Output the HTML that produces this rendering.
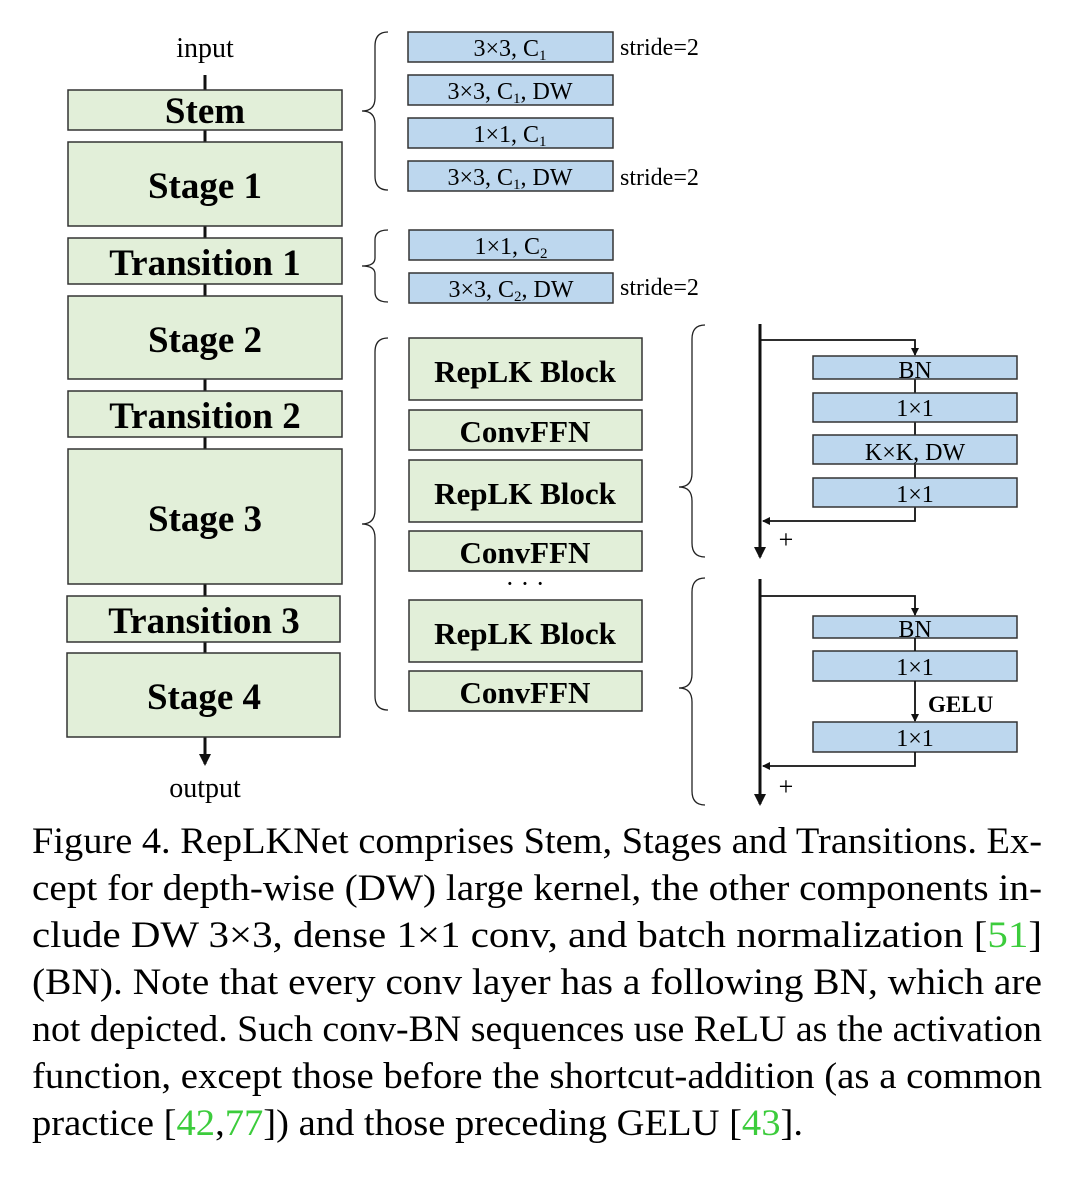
<!DOCTYPE html>
<html><head><meta charset="utf-8"><style>
html,body{margin:0;padding:0;background:#fff;}
svg{display:block;}
text{font-family:"Liberation Serif",serif;}
.b{font-weight:bold;font-size:37px;}
.s{font-size:24px;}
.c{font-size:37px;}
.g{fill:#3ccc3c;}
</style></head><body>
<svg width="1080" height="1177" viewBox="0 0 1080 1177" xmlns="http://www.w3.org/2000/svg">
<defs>
<marker id="ah" markerWidth="8" markerHeight="8" refX="7" refY="4" orient="auto" markerUnits="userSpaceOnUse"><path d="M0,0 L8,4 L0,8 z" fill="#111"/></marker>
<marker id="ahb" markerWidth="12" markerHeight="12" refX="10" refY="6" orient="auto" markerUnits="userSpaceOnUse"><path d="M0,0 L12,6 L0,12 z" fill="#111"/></marker>
</defs>
<line x1="205" y1="75" x2="205" y2="764" stroke="#111" stroke-width="3" marker-end="url(#ahb)"/>
<text x="205" y="57" text-anchor="middle" font-size="28">input</text>
<text x="205" y="797" text-anchor="middle" font-size="28">output</text>
<g fill="#e2efd9" stroke="#333" stroke-width="1.5">
<rect x="68" y="90" width="274" height="40"/>
<rect x="68" y="142" width="274" height="84"/>
<rect x="68" y="238" width="274" height="46"/>
<rect x="68" y="296" width="274" height="83"/>
<rect x="68" y="391" width="274" height="46"/>
<rect x="68" y="449" width="274" height="135"/>
<rect x="67" y="596" width="273" height="46"/>
<rect x="67" y="653" width="273" height="84"/>
<rect x="409" y="338" width="233" height="62"/>
<rect x="409" y="410" width="233" height="40"/>
<rect x="409" y="460" width="233" height="62"/>
<rect x="409" y="531" width="233" height="40"/>
<rect x="409" y="600" width="233" height="62"/>
<rect x="409" y="671" width="233" height="40"/>
</g>
<g class="b" text-anchor="middle">
<text x="205" y="123">Stem</text>
<text x="205" y="198">Stage 1</text>
<text x="205" y="275">Transition 1</text>
<text x="205" y="352">Stage 2</text>
<text x="205" y="428">Transition 2</text>
<text x="205" y="531">Stage 3</text>
<text x="204" y="633">Transition 3</text>
<text x="204" y="709">Stage 4</text>
</g>
<g font-weight="bold" font-size="31" text-anchor="middle">
<text x="525" y="382">RepLK Block</text>
<text x="525" y="442">ConvFFN</text>
<text x="525" y="504">RepLK Block</text>
<text x="525" y="563">ConvFFN</text>
<text x="525" y="644">RepLK Block</text>
<text x="525" y="703">ConvFFN</text>
<text x="525" y="592" font-weight="normal" font-size="26">· · ·</text>
</g>
<g fill="#bdd7ee" stroke="#333" stroke-width="1.5">
<rect x="408" y="32" width="205" height="30"/>
<rect x="408" y="75" width="205" height="30"/>
<rect x="408" y="118" width="205" height="30"/>
<rect x="408" y="161" width="205" height="30"/>
<rect x="409" y="230" width="204" height="30"/>
<rect x="409" y="273" width="204" height="30"/>
</g>
<g class="s" text-anchor="middle">
<text x="510" y="56">3×3, C<tspan font-size="15" dy="4">1</tspan></text>
<text x="510" y="99">3×3, C<tspan font-size="15" dy="4">1</tspan><tspan dy="-4">, DW</tspan></text>
<text x="510" y="142">1×1, C<tspan font-size="15" dy="4">1</tspan></text>
<text x="510" y="185">3×3, C<tspan font-size="15" dy="4">1</tspan><tspan dy="-4">, DW</tspan></text>
<text x="511" y="254">1×1, C<tspan font-size="15" dy="4">2</tspan></text>
<text x="511" y="297">3×3, C<tspan font-size="15" dy="4">2</tspan><tspan dy="-4">, DW</tspan></text>
</g>
<g font-size="24">
<text x="620" y="55">stride=2</text>
<text x="620" y="185">stride=2</text>
<text x="620" y="295">stride=2</text>
</g>
<g fill="none" stroke="#222" stroke-width="1.3">
<path d="M388,32 Q375,32 375,46 L375,98 Q375,111 362,111 Q375,111 375,124 L375,176 Q375,190 388,190"/>
<path d="M388,230 Q375,230 375,240 L375,258 Q375,266 362,266 Q375,266 375,274 L375,292 Q375,302 388,302"/>
<path d="M388,338 Q375,338 375,352 L375,510 Q375,524 362,524 Q375,524 375,538 L375,696 Q375,710 388,710"/>
<path d="M705,325 Q692,325 692,339 L692,473 Q692,487 679,487 Q692,487 692,501 L692,543 Q692,557 705,557"/>
<path d="M705,578 Q692,578 692,592 L692,674 Q692,688 679,688 Q692,688 692,702 L692,791 Q692,805 705,805"/>
</g>
<line x1="760" y1="324" x2="760" y2="557" stroke="#111" stroke-width="3" marker-end="url(#ahb)"/>
<polyline points="760,340 915,340 915,355" fill="none" stroke="#111" stroke-width="1.8" marker-end="url(#ah)"/>
<line x1="915" y1="379" x2="915" y2="478" stroke="#111" stroke-width="1.8"/>
<polyline points="915,507 915,521 763,521" fill="none" stroke="#111" stroke-width="1.8" marker-end="url(#ah)"/>
<g fill="#bdd7ee" stroke="#333" stroke-width="1.5">
<rect x="813" y="356" width="204" height="23"/>
<rect x="813" y="393" width="204" height="29"/>
<rect x="813" y="435" width="204" height="29"/>
<rect x="813" y="478" width="204" height="29"/>
<rect x="813" y="616" width="204" height="22"/>
<rect x="813" y="651" width="204" height="30"/>
<rect x="813" y="722" width="204" height="30"/>
</g>
<g class="s" text-anchor="middle">
<text x="915" y="378">BN</text>
<text x="915" y="416">1×1</text>
<text x="915" y="460">K×K, DW</text>
<text x="915" y="502">1×1</text>
<text x="915" y="637">BN</text>
<text x="915" y="675">1×1</text>
<text x="915" y="746">1×1</text>
</g>
<text x="786" y="548" font-size="26" text-anchor="middle">+</text>
<line x1="760" y1="579" x2="760" y2="804" stroke="#111" stroke-width="3" marker-end="url(#ahb)"/>
<polyline points="760,596 915,596 915,615" fill="none" stroke="#111" stroke-width="1.8" marker-end="url(#ah)"/>
<line x1="915" y1="638" x2="915" y2="651" stroke="#111" stroke-width="1.8"/>
<line x1="915" y1="681" x2="915" y2="721" stroke="#111" stroke-width="1.8" marker-end="url(#ah)"/>
<polyline points="915,752 915,766 763,766" fill="none" stroke="#111" stroke-width="1.8" marker-end="url(#ah)"/>
<text x="928" y="712" font-weight="bold" font-size="23">GELU</text>
<text x="786" y="795" font-size="26" text-anchor="middle">+</text>
<g class="c">
<text x="32" y="853" textLength="1010" lengthAdjust="spacingAndGlyphs">Figure 4. RepLKNet comprises Stem, Stages and Transitions. Ex-</text>
<text x="32" y="900" textLength="1010" lengthAdjust="spacingAndGlyphs">cept for depth-wise (DW) large kernel, the other components in-</text>
<text x="32" y="947" textLength="1010" lengthAdjust="spacingAndGlyphs">clude DW 3×3, dense 1×1 conv, and batch normalization [<tspan class="g">51</tspan>]</text>
<text x="32" y="994" textLength="1010" lengthAdjust="spacingAndGlyphs">(BN). Note that every conv layer has a following BN, which are</text>
<text x="32" y="1041" textLength="1010" lengthAdjust="spacingAndGlyphs">not depicted. Such conv-BN sequences use ReLU as the activation</text>
<text x="32" y="1088" textLength="1010" lengthAdjust="spacingAndGlyphs">function, except those before the shortcut-addition (as a common</text>
<text x="32" y="1135" textLength="771" lengthAdjust="spacingAndGlyphs">practice [<tspan class="g">42</tspan>,<tspan class="g">77</tspan>]) and those preceding GELU [<tspan class="g">43</tspan>].</text>
</g>
</svg>
</body></html>
